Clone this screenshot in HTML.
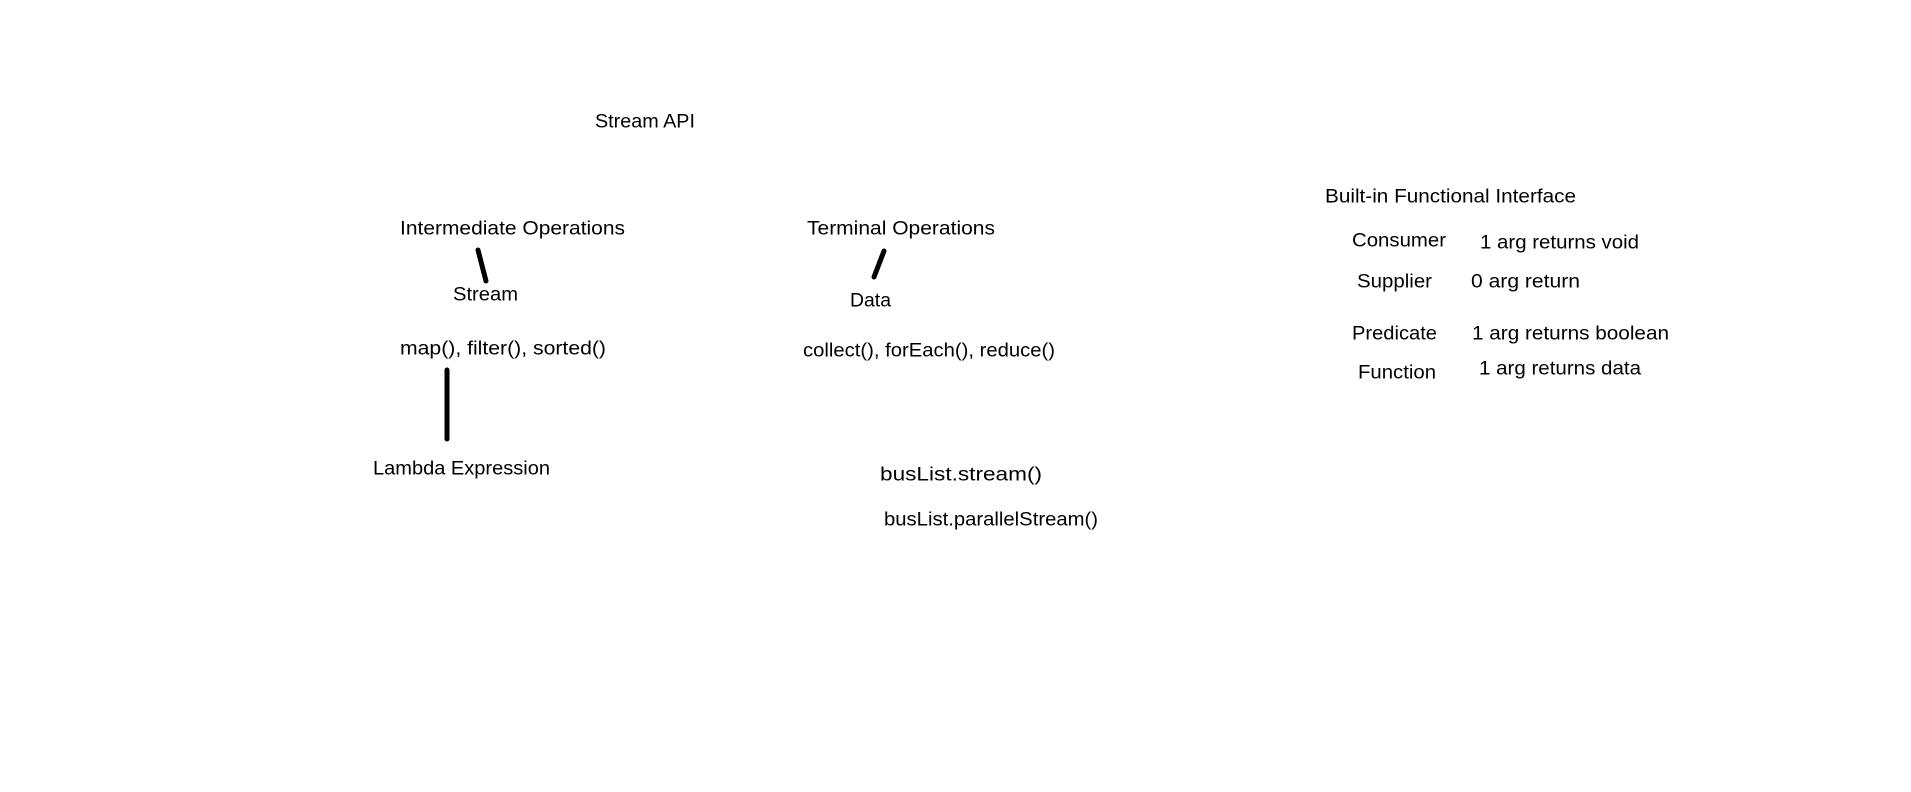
<!DOCTYPE html>
<html><head><meta charset="utf-8"><style>
html,body{margin:0;padding:0;background:#fff;}
svg{display:block}
text{font-family:"Liberation Sans",sans-serif;font-size:19px;fill:#000;dominant-baseline:central}
</style></head><body>
<svg width="1911" height="792" viewBox="0 0 1911 792" xmlns="http://www.w3.org/2000/svg">
<rect width="1911" height="792" fill="#fff"/>
<g stroke="#000" stroke-width="5" stroke-linecap="round">
<line x1="478" y1="250" x2="486" y2="281"/>
<line x1="447" y1="370" x2="447" y2="439"/>
<line x1="884" y1="251" x2="874" y2="277"/>
</g>
<text x="595" y="122" textLength="100" lengthAdjust="spacingAndGlyphs">Stream API</text>
<text x="400" y="229" textLength="225" lengthAdjust="spacingAndGlyphs">Intermediate Operations</text>
<text x="453" y="295" textLength="65" lengthAdjust="spacingAndGlyphs">Stream</text>
<text x="400" y="349" textLength="206" lengthAdjust="spacingAndGlyphs">map(), filter(), sorted()</text>
<text x="373" y="469" textLength="177" lengthAdjust="spacingAndGlyphs">Lambda Expression</text>
<text x="807" y="229" textLength="188" lengthAdjust="spacingAndGlyphs">Terminal Operations</text>
<text x="850" y="301" textLength="41" lengthAdjust="spacingAndGlyphs">Data</text>
<text x="803" y="351" textLength="252" lengthAdjust="spacingAndGlyphs">collect(), forEach(), reduce()</text>
<text x="880" y="475" textLength="162" lengthAdjust="spacingAndGlyphs">busList.stream()</text>
<text x="884" y="520" textLength="214" lengthAdjust="spacingAndGlyphs">busList.parallelStream()</text>
<text x="1325" y="197" textLength="251" lengthAdjust="spacingAndGlyphs">Built-in Functional Interface</text>
<text x="1352" y="241" textLength="94" lengthAdjust="spacingAndGlyphs">Consumer</text>
<text x="1480" y="243" textLength="159" lengthAdjust="spacingAndGlyphs">1 arg returns void</text>
<text x="1357" y="282" textLength="75" lengthAdjust="spacingAndGlyphs">Supplier</text>
<text x="1471" y="282" textLength="109" lengthAdjust="spacingAndGlyphs">0 arg return</text>
<text x="1352" y="334" textLength="85" lengthAdjust="spacingAndGlyphs">Predicate</text>
<text x="1472" y="334" textLength="197" lengthAdjust="spacingAndGlyphs">1 arg returns boolean</text>
<text x="1358" y="373" textLength="78" lengthAdjust="spacingAndGlyphs">Function</text>
<text x="1479" y="369" textLength="162" lengthAdjust="spacingAndGlyphs">1 arg returns data</text>
</svg>
</body></html>
